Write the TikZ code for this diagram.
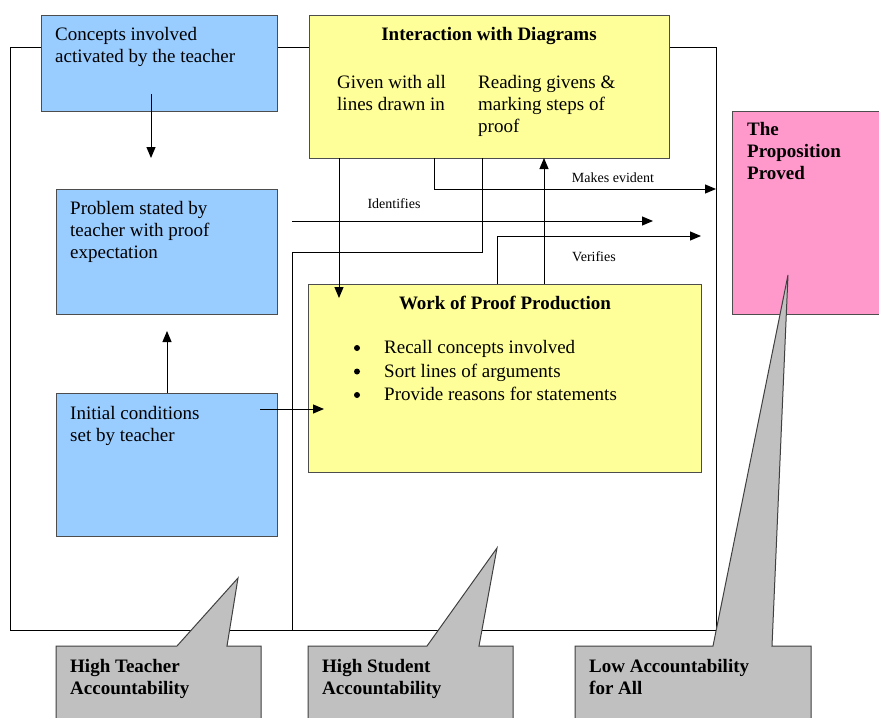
\documentclass[tikz,border=0pt]{standalone}
\usepackage{fontspec}
\setmainfont{Liberation Serif}
\usetikzlibrary{arrows.meta,calc}
\definecolor{boxblue}{HTML}{99CCFF}
\definecolor{boxyellow}{HTML}{FFFF99}
\definecolor{boxpink}{HTML}{FF99CC}
\definecolor{calloutgray}{HTML}{C0C0C0}
\definecolor{boxedge}{HTML}{4D4D4D}
\definecolor{calloutedge}{HTML}{404040}
\begin{document}
\begin{tikzpicture}[x=1pt,y=-1pt,
  box/.style={draw=boxedge, line width=1pt, anchor=north west, inner sep=0pt, outer sep=0pt},
  txt/.style={anchor=north west, inner sep=0pt, align=left, font=\fontsize{19}{22}\selectfont},
  btxt/.style={anchor=north west, inner sep=0pt, align=left, font=\fontsize{19}{22}\selectfont\bfseries},
  bullettxt/.style={anchor=base west, inner sep=0pt, font=\fontsize{19}{22}\selectfont},
  bulletdot/.style={fill=black},
  lbl/.style={anchor=base, inner sep=0pt, font=\fontsize{14}{16}\selectfont},
  arr/.style={-{Triangle[length=11pt,width=9pt]}, line width=1pt},
  ln/.style={line width=1pt},
  callout/.style={fill=calloutgray, draw=calloutedge, line width=1pt, line join=miter}
]
\useasboundingbox (0,0) rectangle (879,718);
\fill[white] (0,0) rectangle (879,718);

% outer frame
\coordinate (oTL) at (10,47);
\coordinate (oBL) at (10,630);
\coordinate (oBR) at (716,630);
\coordinate (oTR) at (716,47);
\draw[ln] (oTR) -- (oTL) -- (oBL) -- (oBR) -- cycle;

% boxes
\node[box, fill=boxblue, minimum width=236pt, minimum height=96pt] (concepts) at (41,15) {};
\node[box, fill=boxblue, minimum width=221pt, minimum height=125pt] (problem) at (56,189) {};
\node[box, fill=boxblue, minimum width=221pt, minimum height=143pt] (initial) at (56,393) {};
\node[box, fill=boxyellow, minimum width=360pt, minimum height=143pt] (interaction) at (309,15) {};
\node[box, fill=boxyellow, minimum width=393pt, minimum height=188pt] (work) at (308,284) {};
\node[box, fill=boxpink, minimum width=170pt, minimum height=203pt] (prop) at (732,111) {};

% texts
\node[txt] (tconcepts) at (55,27.5) {Concepts involved\\activated by the teacher};
\node[txt] (tproblem) at (70,201.5) {Problem stated by\\teacher with proof\\expectation};
\node[txt] (tinitial) at (70,406.5) {Initial conditions\\set by teacher};
\node[btxt, anchor=north] (tinter) at (489,27.5) {Interaction with Diagrams};
\node[txt] (tgiven) at (337,75.5) {Given with all\\lines drawn in};
\node[txt] (treading) at (478,75.5) {Reading givens \&\\marking steps of\\proof};
\node[btxt, anchor=north] (twork) at (505,295.5) {Work of Proof Production};
\node[bullettxt] (b1) at (384,353.5) {Recall concepts involved};
\node[bullettxt] (b2) at (384,377) {Sort lines of arguments};
\node[bullettxt] (b3) at (384,400.5) {Provide reasons for statements};
\fill[bulletdot] (357,348) circle (3pt);
\fill[bulletdot] (357,371.5) circle (3pt);
\fill[bulletdot] (357,395) circle (3pt);
\node[btxt] (tprop) at (747,122.5) {The\\Proposition\\Proved};

% connector end points
\coordinate (a1s) at (151,94);
\coordinate (a1e) at (151,158);
\coordinate (a2e) at (167,331);
\coordinate (a3s) at (260,409);
\coordinate (a3e) at (324,409);
\coordinate (a4e) at (339,298);
\coordinate (meEnd) at (716,189);
\coordinate (idStart) at (292,221);
\coordinate (idEnd) at (653,221);
\coordinate (veEnd) at (701,236);
\coordinate (lnCorner) at (292,252);

% connectors
\draw[arr] (a1s) -- (a1e);
\draw[arr] ($(initial.north west)+(111,0)$) -- (a2e);
\draw[arr] (a3s) -- (a3e);
\draw[arr] ($(interaction.south west)+(30,0)$) -- (a4e);
\draw[arr] ($(work.north west)+(236,0)$) -- ($(interaction.south west)+(235,0)$);
\draw[arr] ($(interaction.south west)+(125,0)$) |- (meEnd);
\draw[arr] (idStart) -- (idEnd);
\draw[arr] ($(work.north west)+(189,0)$) |- (veEnd);
\draw[ln] ($(interaction.south west)+(173,0)$) |- (lnCorner) -- (lnCorner |- oBL);

% labels
\node[lbl] (lme) at (613,182.5) {Makes evident};
\node[lbl] (lid) at (394,208) {Identifies};
\node[lbl] (lve) at (594,261) {Verifies};

% callouts
\draw[callout] (56,740) -- (56,646) -- (177,646) -- (238,578) -- (227,646) -- (261,646) -- (261,740);
\draw[callout] (308,740) -- (308,646) -- (427,646) -- (497,548) -- (479,646) -- (513,646) -- (513,740);
\draw[callout] (575,740) -- (575,646) -- (713,646) -- (788,275) -- (772,646) -- (811,646) -- (811,740);
\node[btxt] (c1) at (70,659.5) {High Teacher\\Accountability};
\node[btxt] (c2) at (322,659.5) {High Student\\Accountability};
\node[btxt] (c3) at (589,659.5) {Low Accountability\\for All};
\end{tikzpicture}
\end{document}
